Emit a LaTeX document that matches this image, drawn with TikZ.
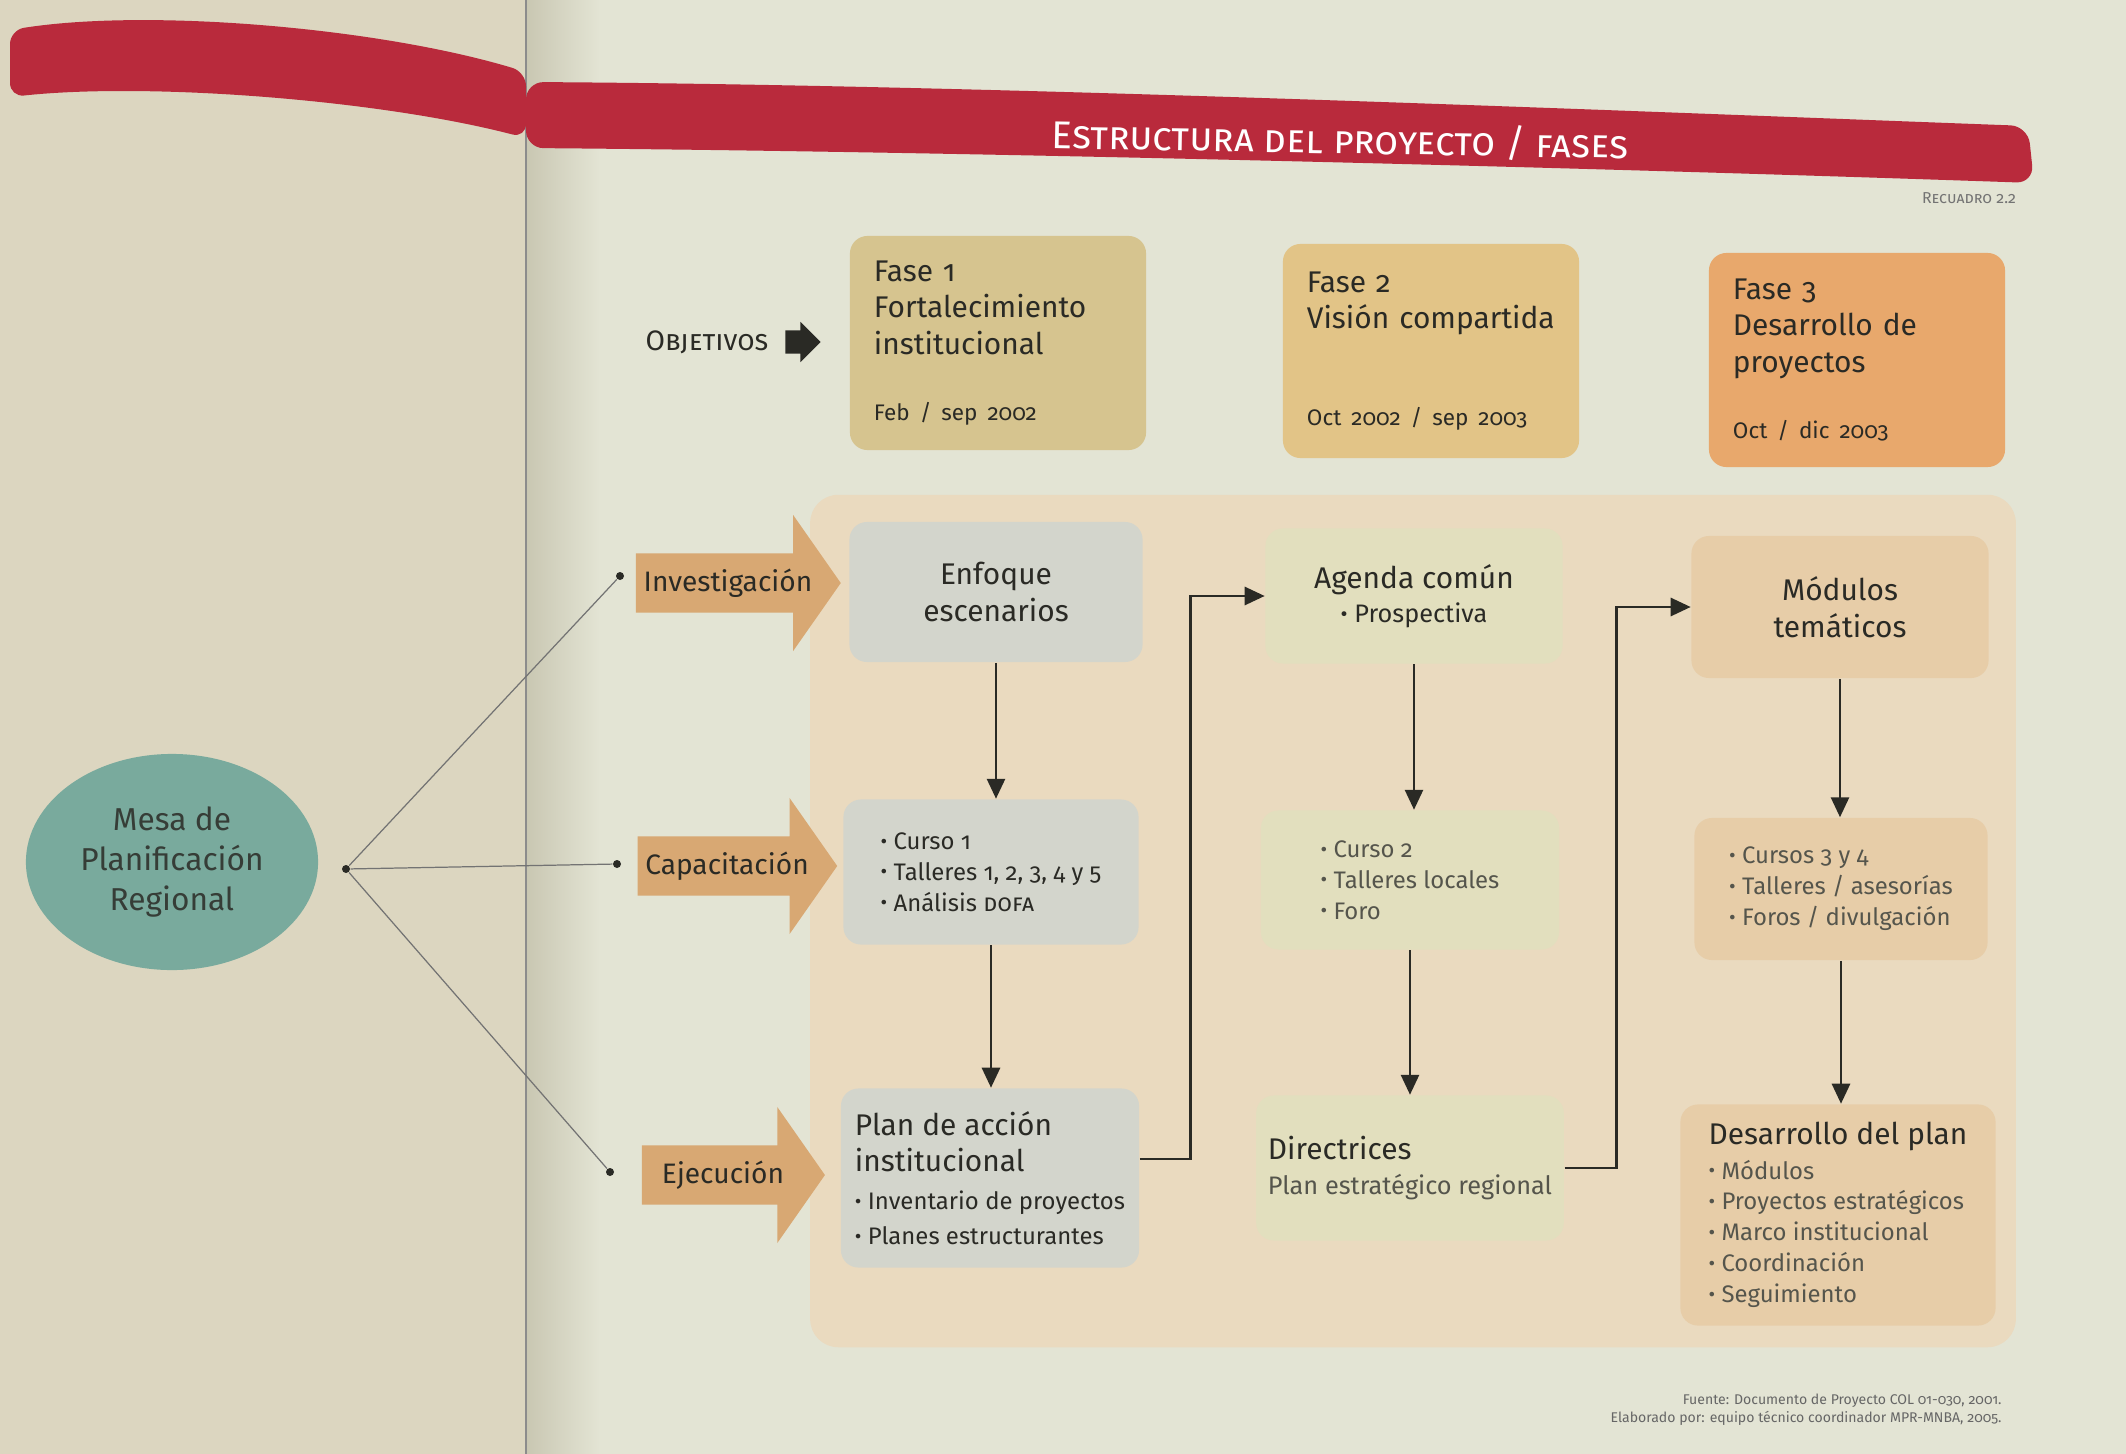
\documentclass[tikz,border=0pt]{standalone}
\usepackage{fontspec}
\setmainfont{Fira Sans}[Numbers=OldStyle]
\usetikzlibrary{positioning,shapes.geometric,shapes.arrows,arrows.meta}
\definecolor{pageleft}{HTML}{DCD6C0}
\definecolor{pageright}{HTML}{E3E4D4}
\definecolor{gutter}{HTML}{C9C7B2}
\definecolor{bandred}{HTML}{B92A3C}
\definecolor{faseone}{HTML}{D6C48F}
\definecolor{fasetwo}{HTML}{E2C487}
\definecolor{fasethree}{HTML}{E8A86C}
\definecolor{panel}{HTML}{EADABF}
\definecolor{colone}{HTML}{D3D5CC}
\definecolor{coltwo}{HTML}{E2DFBE}
\definecolor{colthree}{HTML}{E7CDA8}
\definecolor{arrowtan}{HTML}{D8A873}
\definecolor{mesa}{HTML}{79AA9D}
\definecolor{ink}{HTML}{2A2A25}
\definecolor{soft}{HTML}{55554C}
\newcommand{\headfont}{\fontsize{8.5}{10.4}\selectfont\color{ink}}
\newcommand{\itemfont}{\fontsize{6.8}{8.8}\selectfont}
\newcommand{\datefont}{\fontsize{6.4}{8}\selectfont}
\newcommand{\bul}{\raisebox{0.1ex}{\scalebox{0.85}{\textbullet}}\ }

\begin{document}
\begin{tikzpicture}[x=0.01cm, y=-0.01cm,
    phase/.style={rounded corners=5pt, minimum width=2.96cm,
      minimum height=2.14cm, text width=2.48cm, align=left, text=ink,
      font=\fontsize{8.5}{10.3}\selectfont},
    cell/.style={rounded corners=5pt, minimum width=2.95cm,
      minimum height=1.42cm, align=left, text=ink, font=\itemfont},
    bigarrow/.style={single arrow, fill=arrowtan, minimum height=1.83cm,
      minimum width=1.36cm, single arrow head extend=0.285cm,
      single arrow tip angle=110, inner sep=2pt, text=ink,
      font=\fontsize{8}{10}\selectfont},
    dot/.style={circle, fill=ink, inner sep=0pt, minimum size=0.08cm},
    thread/.style={draw=black!55, line width=0.35pt},
    flow/.style={-{Triangle[length=0.2cm,width=0.18cm]}, line width=0.8pt,
      draw=ink}]

  \useasboundingbox (0,0) rectangle (2126,1454);
  \fill[pageleft] (0,0) rectangle (526,1454);
  \fill[pageright] (526,0) rectangle (2126,1454);
  \shade[left color=gutter, right color=pageright] (526,0) rectangle (600,1454);
  \draw[black!45, line width=0.6pt] (526,0) -- (526,1454);

  \fill[bandred, rounded corners=4pt] (10,97) .. controls (150,82) and (380,100) .. (526,138)
    -- (526,72) .. controls (380,28) and (150,8) .. (10,30) -- cycle;
  \fill[bandred, rounded corners=5pt] (526,82) .. controls (1000,85) and (1600,110) .. (2028,126)
    -- (2034,183) .. controls (1600,168) and (1000,152) .. (526,148) -- cycle;
  \node[text=white, rotate=-1, font=\fontsize{11}{13}\selectfont] (title) at (1340,140)
    {\textsc{Estructura del proyecto / fases}};
  \node[text=black!55, font=\fontsize{4.5}{5}\selectfont] (recuadro) at (1969,198)
    {\textsc{Recuadro 2.2}};

  \node[text=ink, font=\fontsize{8}{10}\selectfont] (objetivos) at (707,342) {\textsc{Objetivos}};
  \node[single arrow, fill=ink, minimum height=0.3cm, minimum width=0.39cm,
    single arrow head extend=0.085cm, inner sep=0.11cm, right=0.04cm of objetivos] (objpointer) {};

  \node[phase, fill=faseone] (fase1) at (998,343)
    {Fase 1\\Fortalecimiento\\institucional\\[0.3cm]{\datefont Feb / sep 2002}};
  \node[phase, fill=fasetwo] (fase2) at (1431,351)
    {Fase 2\\Visión compartida\\[0.6cm]{\datefont Oct 2002 / sep 2003}};
  \node[phase, fill=fasethree] (fase3) at (1857,360)
    {Fase 3\\Desarrollo de\\proyectos\\[0.3cm]{\datefont Oct / dic 2003}};

  \node[fill=panel, rounded corners=8pt, minimum width=12.05cm, minimum height=8.52cm]
    (panel) at (1413,921) {};

  \node[cell, fill=colone, minimum width=2.93cm, minimum height=1.40cm, align=center,
    font=\headfont] (enfoque) at (996,592) {Enfoque\\escenarios};
  \node[cell, fill=colone, minimum height=1.45cm] (curso1) at (991,872)
    {\bul Curso 1\\\bul Talleres 1, 2, 3, 4 y 5\\\bul Análisis \textsc{dofa}};
  \node[cell, fill=colone, minimum width=2.98cm, minimum height=1.79cm] (plan) at (990,1178)
    {{\headfont Plan de acción}\\[1.6pt]{\headfont institucional}\\[2pt]\bul Inventario de proyectos\\[1pt]\bul Planes estructurantes};

  \node[cell, fill=coltwo, minimum width=2.97cm, minimum height=1.35cm, align=center] (agenda) at (1414,596)
    {{\headfont Agenda común}\\[1pt]{\fontsize{7.2}{9}\selectfont\bul Prospectiva}};
  \node[cell, fill=coltwo, text=soft, minimum width=2.98cm, minimum height=1.39cm] (curso2) at (1410,880)
    {\bul Curso 2\\\bul Talleres locales\\\bul Foro};
  \node[cell, fill=coltwo, text=soft, minimum width=2.98cm, minimum height=1.45cm] (dir) at (1410,1168)
    {{\headfont Directrices}\\[1pt]{\fontsize{7.2}{9}\selectfont Plan estratégico regional}};

  \node[cell, fill=colthree, minimum width=2.97cm, minimum height=1.42cm, align=center,
    font=\headfont] (modulos) at (1840,607) {Módulos\\temáticos};
  \node[cell, fill=colthree, text=soft, minimum width=2.93cm] (curso3) at (1841,889)
    {\bul Cursos 3 y 4\\\bul Talleres / asesorías\\\bul Foros / divulgación};
  \node[cell, fill=colthree, text=soft, minimum width=3.15cm, minimum height=2.21cm] (desarrollo) at (1838,1215)
    {{\headfont Desarrollo del plan}\\[1pt]\bul Módulos\\\bul Proyectos estratégicos\\\bul Marco institucional\\\bul Coordinación\\\bul Seguimiento};

  \draw[flow] (enfoque.south) -- (enfoque.south |- curso1.north);
  \draw[flow] (curso1.south) -- (curso1.south |- plan.north);
  \draw[flow] (agenda.south) -- (agenda.south |- curso2.north);
  \draw[flow] (curso2.south) -- (curso2.south |- dir.north);
  \draw[flow] (modulos.south) -- (modulos.south |- curso3.north);
  \draw[flow] (curso3.south) -- (curso3.south |- desarrollo.north);
  \draw[flow] ([yshift=0.19cm]plan.east) -- ++(0.51cm,0) |- (agenda.west);
  \draw[flow] (dir.east) -- ++(0.52cm,0) |- (modulos.west);

  \node[ellipse, fill=mesa, minimum width=2.72cm, minimum height=2.16cm, align=center,
    text=ink!85!mesa, font=\fontsize{9}{11.5}\selectfont] (mesa) at (172,862)
    {Mesa de\\Planificación\\Regional};
  \node[dot] (hub) at (346,869) {};
  \node[dot] (dinv) at (620,576) {};
  \node[dot] (dcap) at (617,864) {};
  \node[dot] (deje) at (610,1172) {};
  \draw[thread] (hub) -- (dinv);
  \draw[thread] (hub) -- (dcap);
  \draw[thread] (hub) -- (deje);

  \node[bigarrow] (inv) at (728,583) {Investigación};
  \node[bigarrow] (cap) at (727,866) {Capacitación};
  \node[bigarrow] (eje) at (723,1175) {Ejecución};

  \node[anchor=east, text=black!60, font=\fontsize{4}{5.2}\selectfont, align=right] (fuente) at (2014,1410)
    {Fuente: Documento de Proyecto COL 01-030, 2001.\\Elaborado por: equipo técnico coordinador MPR-MNBA, 2005.};
\end{tikzpicture}
\end{document}
